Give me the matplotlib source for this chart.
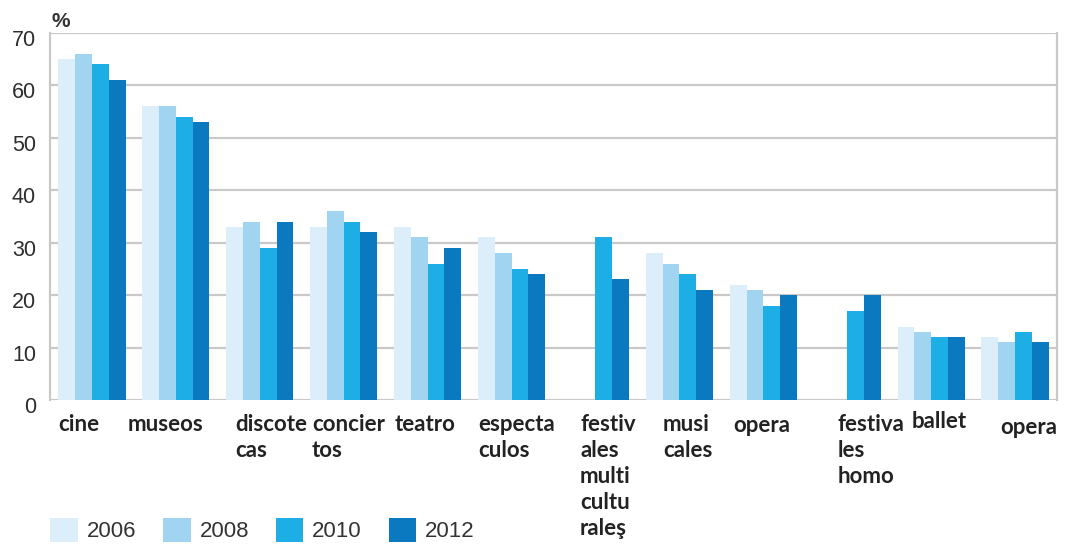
import numpy as np
import matplotlib
matplotlib.use("Agg")
import matplotlib.pyplot as plt
from matplotlib.transforms import blended_transform_factory, ScaledTranslation

# Cultural activities attended (%), by survey year
categories = ["cine", "museos", "discote\ncas", "concier\ntos", "teatro",
              "especta\nculos", "festiv\nales\nmulti\ncultu\nraleş",
              "musi\ncales", "opera", "festiva\nles\nhomo", "ballet", "opera"]
years = ["2006", "2008", "2010", "2012"]
v2006 = [65, 56, 33, 33, 33, 31, np.nan, 28, 22, np.nan, 14, 12]
v2008 = [66, 56, 34, 36, 31, 28, np.nan, 26, 21, np.nan, 13, 11]
v2010 = [64, 54, 29, 34, 26, 25, 31, 24, 18, 17, 12, 13]
v2012 = [61, 53, 34, 32, 29, 24, 23, 21, 20, 20, 12, 11]
series = [v2006, v2008, v2010, v2012]
yticks = [0, 10, 20, 30, 40, 50, 60, 70]

colors = ["#dbeef9", "#a0d4f1", "#1eaee6", "#0a79c0"]

# horizontal / vertical nudges of the category labels (data units, pixels)
label_dx = [-0.405, -0.571, -0.296, -0.378, -0.389, -0.40,
            -0.184, -0.195, -0.361, -0.11, -0.23, -0.18]
label_dy = [0, 0, 0, 0, 0, 0, 0, 0, 1, 0, -3, 3]

W, H = 1065, 544
fig = plt.figure(figsize=(W / 100, H / 100), dpi=100)
ax = fig.add_axes([50 / W, 1 - 400 / H, (1057 - 50) / W, (400 - 33) / H])

x = np.arange(len(categories))
bw = 0.2
for k, (vals, c, lab) in enumerate(zip(series, colors, years)):
    vals = np.asarray(vals, dtype=float)
    ok = ~np.isnan(vals)
    ax.bar(x[ok] + (k - 1.5) * bw, vals[ok], width=bw, color=c,
           edgecolor="none", label=lab, zorder=3)

ax.set_xlim(-0.5, len(categories) - 0.5)
ax.set_ylim(0, 70)
ax.set_yticks(yticks)
ax.set_xticks([])
ax.grid(axis="y", color="#c9c9c9", linewidth=1.6, zorder=0)
ax.set_axisbelow(True)

for side in ["left", "right"]:
    ax.spines[side].set_color("#c9c9c9")
    ax.spines[side].set_linewidth(1.6)
for side in ["top", "bottom"]:
    ax.spines[side].set_visible(False)

sans = ["Liberation Sans", "DejaVu Sans"]
ax.tick_params(axis="y", length=0, pad=10, labelsize=15.5, labelcolor="#2e2e2e")
for t in ax.get_yticklabels():
    t.set_fontfamily(sans)
    t.set_transform(t.get_transform() + ScaledTranslation(0, -5 / 100, fig.dpi_scale_trans))

fig.text(52 / W, 1 - 27 / H, "%", fontsize=15, fontweight="bold",
         family=sans, color="#333333", va="baseline", ha="left")

trans = blended_transform_factory(ax.transData, ax.transAxes)
for i, (lab, dx, dy) in enumerate(zip(categories, label_dx, label_dy)):
    ax.text(i + dx, -(14 + dy) / 367, lab, transform=trans, ha="left", va="top",
            fontsize=16, fontweight="bold", family=["Lato", "DejaVu Sans"],
            color="#222222", linespacing=1.3)

leg = fig.legend(loc="upper left", bbox_to_anchor=(50 / W, 1 - 518 / H), ncol=4,
                 frameon=False, borderpad=0, borderaxespad=0,
                 prop={"family": sans, "size": 16},
                 handlelength=1.25, handleheight=1.25, handletextpad=0.4,
                 columnspacing=1.2)
for t in leg.get_texts():
    t.set_color("#333333")

fig.savefig("out.png", dpi=100)
